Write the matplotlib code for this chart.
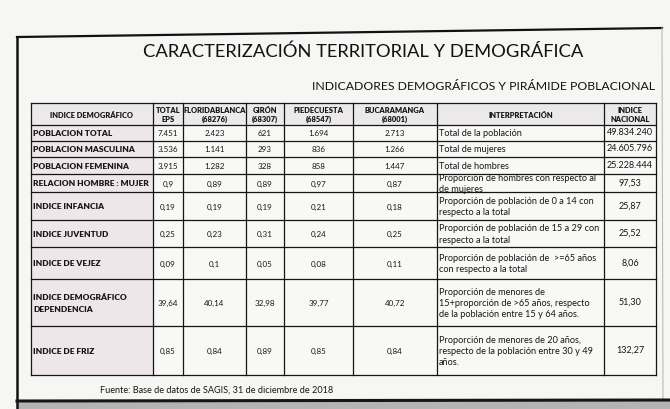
import matplotlib.pyplot as plt
from matplotlib.patches import Rectangle

plt.rcParams['font.family'] = ['Lato', 'DejaVu Sans']

# Table content
headers = ['INDICE DEMOGRÁFICO', 'TOTAL\nEPS', 'FLORIDABLANCA\n(68276)', 'GIRÓN\n(68307)',
           'PIEDECUESTA\n(68547)', 'BUCARAMANGA\n(68001)', 'INTERPRETACIÓN', 'INDICE\nNACIONAL']
row_labels = ['POBLACION TOTAL', 'POBLACION MASCULINA', 'POBLACION FEMENINA',
              'RELACION HOMBRE : MUJER', 'INDICE INFANCIA', 'INDICE JUVENTUD',
              'INDICE DE VEJEZ', 'INDICE DEMOGRÁFICO\nDEPENDENCIA', 'INDICE DE FRIZ']
total_eps = ['7.451', '3.536', '3.915', '0,9', '0,19', '0,25', '0,09', '39,64', '0,85']
floridablanca = ['2.423', '1.141', '1.282', '0,89', '0,19', '0,23', '0,1', '40,14', '0,84']
giron = ['621', '293', '328', '0,89', '0,19', '0,31', '0,05', '32,98', '0,89']
piedecuesta = ['1.694', '836', '858', '0,97', '0,21', '0,24', '0,08', '39,77', '0,85']
bucaramanga = ['2.713', '1.266', '1.447', '0,87', '0,18', '0,25', '0,11', '40,72', '0,84']
interpretacion = [
    'Total de la población',
    'Total de mujeres',
    'Total de hombres',
    'Proporción de hombres con respecto al\nde mujeres',
    'Proporción de población de 0 a 14 con\nrespecto a la total',
    'Proporción de población de 15 a 29 con\nrespecto a la total',
    'Proporción de población de  >=65 años\ncon respecto a la total',
    'Proporción de menores de\n15+proporción de >65 años, respecto\nde la población entre 15 y 64 años.',
    'Proporción de menores de 20 años,\nrespecto de la población entre 30 y 49\naños.',
]
nacional = ['49.834.240', '24.605.796', '25.228.444', '97,53', '25,87', '25,52', '8,06', '51,30', '132,27']

# layout (pixel coordinates)
col_x = [31, 153, 183, 246, 284, 353, 437, 604, 656]
row_y = [104, 126, 142, 158, 175, 193, 221, 248, 280, 327, 376]
ink = '#161616'

fig = plt.figure(figsize=(6.7, 4.1), dpi=100)
fig.patch.set_facecolor('#f6f6f4')
ax = fig.add_axes([0, 0, 1, 1])
ax.set_xlim(0, 670)
ax.set_ylim(410, 0)
ax.axis('off')

# page frame
ax.plot([17, 17], [38, 410], color='#111111', lw=1.8, solid_capstyle='butt')
ax.plot([17, 662], [38, 29], color='#111111', lw=1.6)
ax.plot([662, 663], [29, 401], color='#bbbbbb', lw=0.8)
ax.add_patch(Rectangle((17, 402), 653, 8, facecolor='#b4b4b4', edgecolor='none'))
ax.plot([17, 670], [402, 401], color='#151515', lw=2.2)

# titles
ax.text(363, 52, 'CARACTERIZACIÓN TERRITORIAL Y DEMOGRÁFICA', ha='center', va='center',
        fontsize=13.2, color='#111111')
ax.text(655, 87, 'INDICADORES DEMOGRÁFICOS Y PIRÁMIDE POBLACIONAL', ha='right', va='center',
        fontsize=8.8, color='#111111')

# cell fills
ax.add_patch(Rectangle((col_x[0], row_y[0]), col_x[-1] - col_x[0], row_y[1] - row_y[0],
                       facecolor='#ebe9ea', edgecolor='none'))
ax.add_patch(Rectangle((col_x[0], row_y[1]), col_x[1] - col_x[0], row_y[-1] - row_y[1],
                       facecolor='#efe6ea', edgecolor='none'))
ax.add_patch(Rectangle((col_x[1], row_y[1]), col_x[-1] - col_x[1], row_y[-1] - row_y[1],
                       facecolor='#f8f8f7', edgecolor='none'))

# grid lines
for x in col_x:
    ax.plot([x, x], [row_y[0], row_y[-1]], color=ink, lw=0.9)
for y in row_y:
    ax.plot([col_x[0], col_x[-1]], [y, y], color=ink, lw=0.9)

# header
for j, h in enumerate(headers):
    cx = (col_x[j] + col_x[j + 1]) / 2
    cy = (row_y[0] + row_y[1]) / 2
    ax.text(cx, cy, h, ha='center', va='center', fontsize=5.4, fontweight='heavy',
            linespacing=1.45, color=ink)

# body
value_cols = [total_eps, floridablanca, giron, piedecuesta, bucaramanga]
for i in range(len(row_labels)):
    cy = (row_y[i + 1] + row_y[i + 2]) / 2
    ax.text(col_x[0] + 2, cy, row_labels[i], ha='left', va='center', fontsize=6.0,
            fontweight='heavy', linespacing=1.8, color=ink)
    for j, col in enumerate(value_cols):
        cx = (col_x[j + 1] + col_x[j + 2]) / 2
        ax.text(cx, cy, col[i], ha='center', va='center', fontsize=5.8, color=ink)
    ax.text(col_x[6] + 2, cy, interpretacion[i], ha='left', va='center', fontsize=6.6,
            linespacing=1.35, color=ink)
    ax.text((col_x[7] + col_x[8]) / 2, cy - 1, nacional[i], ha='center', va='center',
            fontsize=6.5, color=ink)

ax.text(100, 390, 'Fuente: Base de datos de SAGIS, 31 de diciembre de 2018', ha='left',
        va='center', fontsize=6.6, color=ink)

fig.savefig('out.png', dpi=100, facecolor=fig.get_facecolor())
